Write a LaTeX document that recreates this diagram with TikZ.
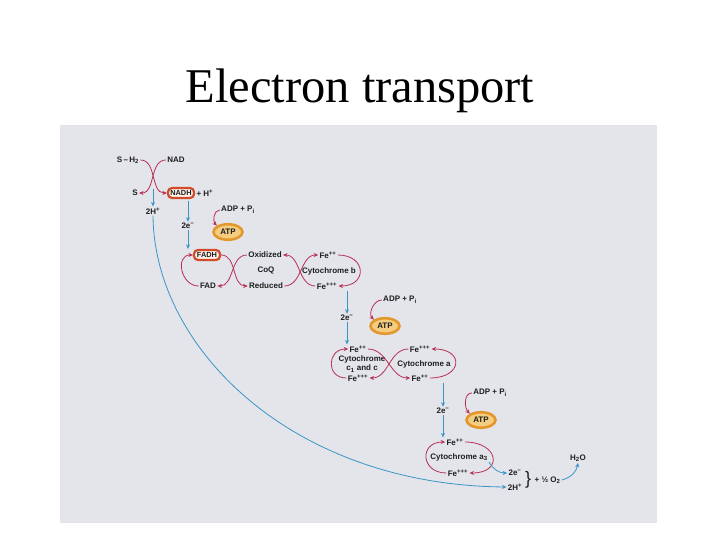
\documentclass[tikz,border=0pt]{standalone}
\usepackage{fontspec}
\setmainfont{Liberation Serif}
\setsansfont{Liberation Sans}
\usetikzlibrary{arrows.meta,shapes.geometric}
\definecolor{panel}{HTML}{E3E5EB}
\definecolor{ink}{HTML}{1E1E1E}
\definecolor{redox}{HTML}{B82E52}
\definecolor{eblue}{HTML}{3A95C5}
\definecolor{boxred}{HTML}{D24A2A}
\definecolor{boxin}{HTML}{FDF1EA}
\definecolor{atpring}{HTML}{E3982E}
\definecolor{atpin}{HTML}{F4CD80}
\begin{document}
\begin{tikzpicture}[x=1pt,y=1pt,>={Stealth[length=4.5pt,width=4pt]},
  lbl/.style={font=\sffamily\bfseries\fontsize{8}{9}\selectfont,text=ink,inner sep=1.2pt},
  carrier/.style={lbl,font=\sffamily\bfseries\fontsize{7.4}{8}\selectfont,draw=boxred,line width=2.2pt,fill=boxin,rounded corners=4pt,minimum width=26pt,minimum height=10pt,inner sep=0.5pt},
  atp/.style={lbl,ellipse,draw=atpring,line width=2.6pt,fill=atpin,minimum width=29pt,minimum height=15.5pt,inner sep=0pt},
  redox/.style={->,draw=redox,line width=0.8pt},
  eflow/.style={->,draw=eblue,line width=0.8pt}]
\useasboundingbox (0,0) rectangle (720,540);
\fill[white] (0,0) rectangle (720,540);
\fill[panel] (60,17) rectangle (657,415);
\node[font=\fontsize{48.5}{52}\selectfont,anchor=base] (title) at (360,437) {Electron transport};

% NAD step
\node[lbl] (sh2) at (128,380) {S\,–\,H\textsubscript{2}};
\node[lbl] (nad) at (176,380) {NAD};
\node[lbl] (s) at (135,347) {S};
\node[carrier] (nadh) at (181,347) {NADH};
\node[lbl,anchor=west] (hplus) at (nadh.east) {+ H\textsuperscript{+}};
\node[lbl] (hp1) at (153,329) {2H\textsuperscript{+}};
\draw[redox] (sh2.east) to[out=0,in=180] (nadh.west);
\draw[redox] (nad.west) to[out=180,in=0] (s.east);
\draw[eflow] (hp1.north |- s.north) -- (hp1.north);

% first ATP
\node[lbl] (adp1) at (238,330) {ADP + P\textsubscript{i}};
\node[atp] (atp1) at (228,308) {ATP};
\node[lbl] (e1) at (188,314) {2e\textsuperscript{−}};
\draw[redox] (adp1.west) to[out=180,in=135] (atp1.150);

% FAD and CoQ
\node[carrier] (fadh) at (207,285) {FADH};
\node[lbl] (fad) at (208,254) {FAD};
\node[lbl] (ox) at (265,285) {Oxidized};
\node[lbl] (coq) at (266,269) {CoQ};
\node[lbl] (red) at (266,254) {Reduced};
\draw[eflow] ([yshift=-1.5pt]e1 |- nadh.south) -- (e1.north);
\draw[eflow] (e1.south) -- (e1 |- fadh.north);
\draw[redox] (fad.west) to[out=180,in=180,distance=18pt] (fadh.west);
\draw[redox] (fadh.east) to[out=0,in=180] (red.west);
\draw[redox] (ox.west) to[out=180,in=0] (fad.east);

% cytochrome b
\node[lbl] (fb2) at (328,285) {Fe\textsuperscript{++}};
\node[lbl] (cytb) at (329,269) {Cytochrome b};
\node[lbl] (fb3) at (327,254) {Fe\textsuperscript{+++}};
\draw[redox] (red.east) to[out=0,in=180] (fb2.west);
\draw[redox] (fb3.west) to[out=180,in=0] (ox.east);
\draw[redox] (fb2.east) to[out=0,in=0,distance=29pt] (fb3.east);

% second ATP
\node[lbl] (e2) at (347,222) {2e\textsuperscript{−}};
\node[lbl] (adp2) at (400,240) {ADP + P\textsubscript{i}};
\node[atp] (atp2) at (385,214) {ATP};
\draw[redox] (adp2.west) to[out=180,in=135] (atp2.150);

% cytochromes c1, c and a
\node[lbl] (fc2) at (358,191) {Fe\textsuperscript{++}};
\node[lbl,align=center] (cytc) at (362,176) {Cytochrome\\c\textsubscript{1} and c};
\node[lbl] (fc3) at (358,162) {Fe\textsuperscript{+++}};
\node[lbl] (fa3) at (420,191) {Fe\textsuperscript{+++}};
\node[lbl] (cyta) at (424,176) {Cytochrome a};
\node[lbl] (fa2) at (420,162) {Fe\textsuperscript{++}};
\draw[eflow] (e2 |- fb3.south) -- (e2.north);
\draw[eflow] (e2.south) -- (e2 |- fc2.north);
\draw[redox] (fc3.west) to[out=180,in=180,distance=21pt] (fc2.west);
\draw[redox] (fc2.east) to[out=0,in=180] (fa2.west);
\draw[redox] (fa3.west) to[out=180,in=0] (fc3.east);
\draw[redox] (fa2.east) to[out=0,in=0,distance=33pt] (fa3.east);

% third ATP
\node[lbl] (e3) at (443,129) {2e\textsuperscript{−}};
\node[lbl] (adp3) at (490,147) {ADP + P\textsubscript{i}};
\node[atp] (atp3) at (481,120) {ATP};
\draw[redox] (adp3.west) to[out=180,in=135] (atp3.150);

% cytochrome a3 and oxygen
\node[lbl] (fe32) at (455,98) {Fe\textsuperscript{++}};
\node[lbl] (cyta3) at (459,83) {Cytochrome a\textsubscript{3}};
\node[lbl] (fe33) at (458,67) {Fe\textsuperscript{+++}};
\draw[eflow] (e3 |- fa2.south) -- (e3.north);
\draw[eflow] (e3.south) -- (e3 |- fe32.north);
\draw[redox] (fe33.west) to[out=180,in=180,distance=26pt] (fe32.west);
\draw[redox] (fe32.east) to[out=0,in=0,distance=34pt] (fe33.east);
\node[lbl] (e4) at (515,67) {2e\textsuperscript{−}};
\node[lbl] (hp2) at (515,53) {2H\textsuperscript{+}};
\node[font=\sffamily\fontsize{18}{18}\selectfont,text=ink,inner sep=0pt] (brace) at (528,60) {\}};
\node[lbl,anchor=west] (o2) at ([xshift=2pt]brace.east) {+ ½ O\textsubscript{2}};
\node[lbl] (h2o) at (578,82) {H\textsubscript{2}O};
\draw[eflow] ([yshift=-5pt]cyta3.east) to[out=-60,in=180] (e4.west);
\draw[eflow] (o2.east) to[out=15,in=-100] (h2o.south);
\draw[eflow] (hp1.south) .. controls +(1,-132) and +(-215,2) .. (hp2.west);
\end{tikzpicture}
\end{document}
